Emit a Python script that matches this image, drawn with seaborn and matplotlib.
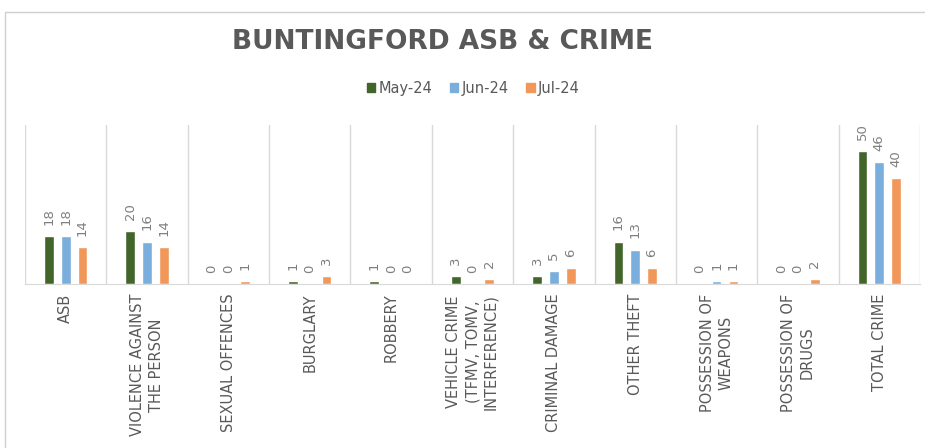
import pandas as pd
import numpy as np
import matplotlib
matplotlib.use("Agg")
import matplotlib.pyplot as plt
import seaborn as sns
from matplotlib.patches import Rectangle

# data
categories = ["ASB", "VIOLENCE AGAINST\nTHE PERSON", "SEXUAL OFFENCES", "BURGLARY",
              "ROBBERY", "VEHICLE CRIME\n(TFMV, TOMV,\nINTERFERENCE)", "CRIMINAL DAMAGE",
              "OTHER THEFT", "POSSESSION OF\nWEAPONS", "POSSESSION OF\nDRUGS", "TOTAL CRIME"]
months = ["May-24", "Jun-24", "Jul-24"]
may_24 = [18, 20, 0, 1, 1, 3, 3, 16, 0, 0, 50]
jun_24 = [18, 16, 0, 0, 0, 0, 5, 13, 1, 0, 46]
jul_24 = [14, 14, 1, 3, 0, 2, 6, 6, 1, 2, 40]

colors = ["#42652a", "#7aaedd", "#f2975a"]

df = pd.DataFrame({
    "Category": categories * 3,
    "Month": np.repeat(months, len(categories)),
    "Count": may_24 + jun_24 + jul_24,
})

sns.set_style("white")
plt.rcParams["font.family"] = ["DejaVu Sans"]

fig = plt.figure(figsize=(9.25, 4.48), dpi=100)
ax = fig.add_axes([25 / 925, 1 - 284 / 448, 895 / 925, 159 / 448])

sns.barplot(data=df, x="Category", y="Count", hue="Month", palette=colors,
            saturation=1, width=0.62, gap=0.42, ax=ax, legend=False)

for cont in ax.containers:
    ax.bar_label(cont, rotation=90, padding=8, color="#7f7f7f", fontsize=9.5)

ax.set_ylim(0, 60)
ax.set_xlim(-0.5, len(categories) - 0.5)
ax.set_yticks([])
ax.set_xlabel("")
ax.set_ylabel("")
for x in np.arange(-0.5, len(categories), 1.0):
    ax.axvline(x, color="#d9d9d9", lw=1, zorder=0)
for s in ["top", "right", "left"]:
    ax.spines[s].set_visible(False)
ax.spines["bottom"].set_color("#d9d9d9")
ax.tick_params(axis="x", length=0, pad=7)
ax.set_xticks(range(len(categories)))
ax.set_xticklabels(categories, rotation=90, va="top", ha="center",
                   color="#595959", fontsize=10.5, linespacing=1.3)

fig.text(443 / 925, 1 - 42 / 448, "BUNTINGFORD ASB & CRIME", ha="center", va="center",
         fontsize=19, fontweight="bold", color="#595959")

handles = [Rectangle((0, 0), 1, 1, color=c) for c in colors]
fig.legend(handles, months, loc="center", bbox_to_anchor=(473 / 925, 1 - 88 / 448),
           ncol=3, frameon=False, handlelength=0.6, handleheight=0.6,
           handletextpad=0.2, columnspacing=1.2, labelcolor="#595959", fontsize=10.5)

fig.add_artist(Rectangle((5 / 925, -0.1), 1.2, 1.1 - 12 / 448, transform=fig.transFigure,
                         fill=False, edgecolor="#d0d0d0", lw=1))

fig.savefig("out.png", dpi=100)
